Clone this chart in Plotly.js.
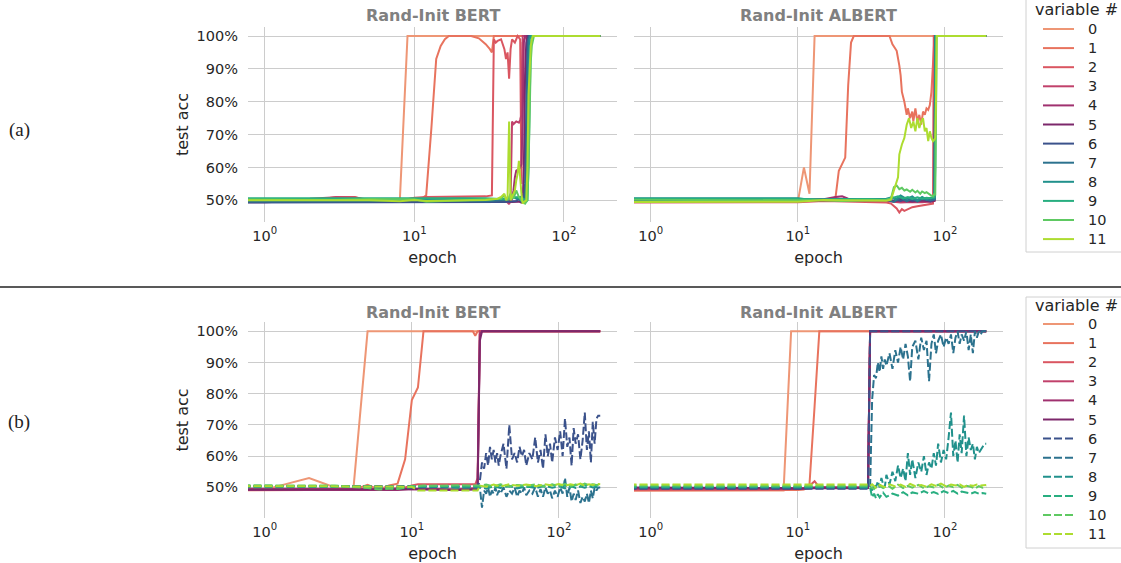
<!DOCTYPE html>
<html>
<head>
<meta charset="utf-8">
<script src="https://cdn.plot.ly/plotly-3.0.1.min.js"></script>
<style>html,body{margin:0;padding:0;background:#fff;}#chart{width:1121px;height:563px;}</style>
</head>
<body>
<div id="chart"></div>
<script>
// ---------------- data ----------------
const variableNames = ['0','1','2','3','4','5','6','7','8','9','10','11'];
const legendTitle = 'variable #';
const panelTitles = ['Rand-Init BERT', 'Rand-Init ALBERT'];
const rowLabels = ['(a)', '(b)'];
const yTickVals = [50, 60, 70, 80, 90, 100];
const yTickText = ['50%', '60%', '70%', '80%', '90%', '100%'];
const xTickVals = [1, 10, 100];
const xTickText = ['10<sup>0</sup>', '10<sup>1</sup>', '10<sup>2</sup>'];
// (epoch 0 of the original run is drawn at 0.5, off the log axis)

// (a) Rand-Init BERT
const bertA_epochs = [
  [0.5,1,2,3,4,5,6,7,8,9,175],
  [0.5,1,2,3,4,5,6,8,10,11,12,13,14,15,16,17,24,27,30,32,33,34,175],
  [0.5,1,2,3,4,5,8,10,12,20,30,33,34,35,36,38,40,41,42,43,44,45,47,49,51,52,53,55,57,175],
  [0.5,1,2,3,4,5,8,12,20,30,38,40,42,43,44,45,46,48,50,51,52,53,54,175],
  [0.5,1,3,5,8,12,20,30,38,42,44,45,46,47,48,50,51,52,53,54,55,175],
  [0.5,1,3,5,10,20,30,40,45,50,52,53,54,55,56,57,175],
  [0.5,1,5,10,20,30,40,48,50,52,54,55,56,57,58,175],
  [0.5,1,5,10,20,30,40,46,50,53,55,56,57,58,59,175],
  [0.5,1,5,10,20,30,40,45,50,52,54,56,57,58,59,60,175],
  [0.5,1,5,10,20,30,40,45,50,54,56,57,58,59,60,61,175],
  [0.5,1,3,5,8,10,12,20,30,36,38,40,42,44,46,48,50,52,53,55,57,58,59,60,61,62,63,175],
  [0.5,1,3,5,8,10,12,20,30,36,38,40,41,42,43,44,45,47,48,49,50,51,52,53,54,56,57,58,59,60,61,62,175]
];
const bertA_acc = [
  [49.6,49.6,49.8,50.3,50.6,49.8,49.7,49.8,50.2,100,100],
  [50,50,50.2,50.8,50.9,50.1,49.8,50.2,50.6,50.2,51.5,72,93,97,99,100,100,99.3,97.5,96,95,100,100],
  [49.5,49.5,49.8,51,51,49.6,49.8,50.8,51,51,51.2,51.5,99,98,98.5,99,96,93,95,87,96,99,98,100,99,55,98,99.5,100,100],
  [50.2,50.2,50.5,50.9,50.8,50,49.8,50.4,50.6,50.5,50.3,49.6,49.4,48.8,50,74,73.2,74,73.6,74.5,76,100,100,100],
  [49.4,49.4,50.2,49.5,49.6,49.8,49.5,49.6,49.5,50,49.5,50.5,53,57,59,59.5,60,61,75,98,100,100],
  [49.8,49.8,49.6,49.6,49.5,49.6,49.8,49.7,49.5,49.6,49.3,49.5,60,88,98,100,100],
  [49.3,49.3,49.4,49.5,49.3,49.4,49.5,49.8,50.5,49.6,50,55,85,98,100,100],
  [49.6,49.6,49.7,50,49.8,49.7,50,50.8,50.2,49.8,50,58,88,99,100,100],
  [50.4,50.4,50.2,50.4,50.3,50.2,50.5,51,50.6,51.2,50,50.2,62,90,99,100,100],
  [50.6,50.6,50.4,50.6,50.4,50.6,50.3,50.8,51,50.4,49.8,50,60,88,97,100,100],
  [50.3,50.3,50.1,50.4,50.2,50.3,49.6,50,50.2,50.5,50.5,51.5,50,52,50.5,53,51,50,49.5,49,50,60,80,92,97,99,100,100],
  [50,50,50.1,50,49.7,50.1,49.8,49.9,50.1,50.5,51,52,50,51,74,50,51,53,56,58,62,55,52,49,49.5,50,60,82,92,97,99,100,100]
];

// (a) Rand-Init ALBERT
const albertA_epochs = [
  [0.5,1,5,10,11,12,13,191],
  [0.5,1,5,10,12,14,16,17,18,19,20,21,22,23,24,42,44,46,47,49,50,51,53,55,56,58,60,61,63,65,67,69,71,73,75,77,79,81,83,85,191],
  [0.5,1,5,10,15,20,30,40,43,45,47,49,51,53,56,60,65,70,75,80,83,84,191],
  [0.5,1,10,12,15,18,20,25,30,40,45,50,60,70,80,85,86,191],
  [0.5,1,10,12,15,18,20,22,25,30,40,45,50,60,70,80,85,86,191],
  [0.5,1,10,15,20,30,40,45,50,60,70,80,85,86,191],
  [0.5,1,10,15,20,30,40,45,50,55,60,70,80,85,86,191],
  [0.5,1,10,15,20,30,40,45,50,55,60,65,70,80,85,86,191],
  [0.5,1,10,12,15,20,30,40,44,46,50,55,60,65,70,75,80,85,86,191],
  [0.5,1,10,15,20,30,40,45,48,52,56,60,65,70,75,80,85,86,87,191],
  [0.5,1,10,15,20,30,40,43,45,47,49,51,53,55,58,60,63,65,68,70,73,75,78,80,83,85,86,87,88,191],
  [0.5,1,10,15,20,30,40,43,45,47,48,49,50,51,53,55,57,59,61,63,65,67,69,71,73,75,77,79,81,83,85,86,87,88,191]
];
const albertA_acc = [
  [49.5,49.5,49.5,49.5,60,52,100,100],
  [49.8,49.8,49.8,49.9,50.2,50.4,50.1,50.2,50.5,59,61,63,85,98,100,100,97.5,96,95.5,91,88,83,80,76,78,75,77,74,78,74,76,73,77,76,78,77.5,79,83,90,100,100],
  [49.3,49.3,49.3,49.4,49.8,49.6,49.5,49.3,49,48.2,47.5,46.3,47.3,46.8,47.4,47.9,48.2,48.5,48.6,48.9,49,100,100],
  [49.6,49.6,49.7,50,49.9,50.6,50.3,49.9,50,49.8,49.6,49.3,49.5,49.4,49.6,49.8,100,100],
  [49.8,49.8,49.9,50.1,50.3,51,51.2,50.5,50.2,50.1,50,49.7,49.9,49.6,49.8,49.7,50,100,100],
  [50,50,50,50.2,50.1,50,50.1,49.8,50.2,49.7,50,49.6,49.9,100,100],
  [50.2,50.2,50.2,50.1,50,50.2,50.1,50.6,49.8,50.7,49.9,50.5,49.8,50.2,100,100],
  [50.4,50.4,50.4,50.3,50.2,50.3,50.2,49.5,50.8,49.7,50.6,49.6,50.4,50.1,50.3,100,100],
  [50.6,50.6,50.6,50.2,50.3,50.4,50.3,50.5,51,50.2,51.5,50.4,51.2,50,51,50.3,50.8,50.6,100,100],
  [50.5,50.5,50.5,50.2,50.3,50.4,50.2,50.8,51.2,50.6,51,50.4,50.9,50.5,50.8,50.6,51,60,100,100],
  [50.2,50.2,50.2,50,49.8,50,50.2,50.6,54,54.5,53.4,53.8,53,53.3,52.6,53.2,52.4,52.9,52,52.7,52.2,52.5,51.8,51.6,51.2,52,51.5,80,100,100],
  [49.5,49.5,49.6,50.1,50,49.8,49.9,50.2,53,55,57,64,66,67,69,73,75,72,74,71,75,72,74,75,71,72,68,71,69,68,68.5,69,80,100,100]
];

// (b) Rand-Init BERT
const bertB_noiseEpochs = [29,30,31,32,33,34,35,36,37,38,39,40,42,44,46,48,50,52,54,56,58,60,63,66,69,72,75,78,81,84,87,90,94,98,102,106,110,114,118,122,126,130,135,140,145,150,155,160,165,170,175,180,185,191];
const bertB_epochs = [
  [0.5,1,2,3,4,5,191],
  [0.5,1,2,3,4,5,6,7,8,9,10,11,12,26,27,28,191],
  [0.5,1,2,3,4,5,6,8,9,10,11,15,20,25,27,28,29,191],
  [0.5,1,3,5,8,10,15,20,28,29,191],
  [0.5,1,3,5,8,10,15,20,28,29,30,191],
  [0.5,1,3,5,8,10,15,20,28,29,30,191],
  [0.5,1,5,10,15,20,25,28].concat(bertB_noiseEpochs),
  [0.5,1,5,10,15,20,25,28].concat(bertB_noiseEpochs),
  [0.5,1,5,8,10,15,20,28,29,32,36,40,46,52,60,70,80,90,100,110,120,130,140,150,160,170,180,191],
  [0.5,1,5,8,10,15,20,28,29,32,36,40,46,52,60,70,80,90,100,110,120,130,140,150,160,170,180,191],
  [0.5,1,3,5,6,7,8,10,12,15,20,28,29,32,36,40,46,52,60,70,80,90,100,110,120,130,140,150,160,170,180,191],
  [0.5,1,5,8,10,11,15,20,25,28,29,32,36,40,46,52,60,70,80,90,100,110,120,130,140,150,160,170,180,191]
];
const bertB_acc = [
  [49.3,49.3,53,50,49.2,100,100],
  [49,49,49.2,49.3,49.2,50.8,49.3,50.6,51.2,59,78,82,100,100,98.6,100,100],
  [49.6,49.6,49.5,49.3,49.4,49.6,49.3,49.7,50,50.6,51,51,51,51,51,53,100,100],
  [49.5,49.5,49.6,49.3,49.5,49.6,49.5,49.4,49.8,100,100],
  [49.2,49.2,49.3,49.4,49.2,49.5,49.4,49.2,49.5,99,100,100],
  [49.3,49.3,49.2,49.3,49.4,49.5,49.3,49.2,49.4,97,100,100],
  [50.3,50.3,50.4,50.1,50.2,50.3,50.2,50.3,
   52,58,56,61,57,63,59,62,58,61,57,60,64,56,70,59,61,58,63,60,62,57,61,59,66,58,62,56,67,60,64,58,66,62,68,60,72,63,66,57,69,64,67,59,65,74,62,68,58,71,64,72,73,73],
  [50.5,50.5,50.6,50.4,50.5,50.6,50.5,50.4,
   50,43.5,49,48,50,47,49,48,50,47.5,49,48,50,47,49,48,50,47,49,48,50,47.5,49,48,50,47,49.5,47,50,48,49,46.5,49,47,50,48,53,47,50,45.5,48,46,49,45,47,45.5,48,45,49,46.5,50,49,50,50],
  [50,50,50.2,49.6,50,50.1,49.9,50,50.2,49.6,50.4,49.8,50.5,49.7,50.3,49.8,50.6,49.9,50.4,49.7,50.5,49.8,50.3,49.9,50.4,50,50.2,50],
  [50.5,50.5,50.3,49.8,50.4,50.5,50.3,50.4,50.1,50.6,49.9,50.7,50.2,50.8,50.1,50.6,50.2,50.9,50.3,50.7,50.1,50.8,50.4,50.9,50.3,50.8,50.5,50.6],
  [50.7,50.7,50.6,49.8,49.3,49.6,49.5,50.3,50.6,50.5,50.7,50.6,50.5,50.9,50.3,51,50.4,50.8,50.5,51,50.4,50.9,50.6,51.1,50.5,50.9,50.6,51.2,50.7,51,50.8,50.9],
  [50.4,50.4,50.5,50.3,50.2,49,49,49,49,49,50.6,50.2,50.9,50.3,51,50.5,50.9,50.4,51,50.6,51.1,50.5,51,50.7,51.2,50.6,51,50.8,51.1,51]
];

// (b) Rand-Init ALBERT
const albertB_noiseEpochs = [31,32,33,34,35,36,37,38,39,40,42,44,46,48,50,52,54,56,58,60,63,66,69,72,75,78,81,84,87,90,94,98,102,106,110,114,118,122,126,130,135,140,145,150,155,160,165,170,175,180,186,191];
const albertB_epochs = [
  [0.5,1,5,8,9,191],
  [0.5,1,5,8,10,11,12,13,14,191],
  [0.5,1,5,8,9,10,11,12,13,14,16,20,25,30,31,191],
  [0.5,1,5,8,9,10,12,14,20,25,30,31,191],
  [0.5,1,5,8,9,10,12,14,20,25,30,31,191],
  [0.5,1,5,8,10,12,14,20,25,30,31,191],
  [0.5,1,5,10,15,20,25,30,31,191],
  [0.5,1,5,10,15,20,25,30].concat(albertB_noiseEpochs),
  [0.5,1,5,10,15,20,25,30].concat(albertB_noiseEpochs),
  [0.5,1,5,10,15,20,25,30,31,32,33,34,35,36,38,40,44,48,52,56,60,66,72,78,84,90,98,106,114,122,130,140,150,160,170,180,191],
  [0.5,1,5,10,15,20,25,30,31,33,35,38,41,44,48,52,56,60,66,72,78,84,90,98,106,114,122,130,140,150,160,170,180,191],
  [0.5,1,5,10,15,20,25,30,31,32,34,36,39,42,46,50,54,58,63,69,75,81,87,94,102,110,118,126,135,145,155,165,175,191]
];
const albertB_acc = [
  [49,49,49,49,100,100],
  [49,49,49,49,49.2,49.3,51,76,100,100],
  [49.2,49.2,49.2,49.3,49.5,49.6,49.8,50.5,52,50,49.8,50,49.9,50,100,100],
  [49.5,49.5,49.5,49.6,49.8,49.6,49.9,50.1,50,50,50,100,100],
  [49.8,49.8,49.8,49.7,49.6,49.5,49.8,50,49.9,49.8,49.9,100,100],
  [50,50,50,49.8,49.6,49.7,49.8,49.7,49.8,49.8,100,100],
  [49.6,49.6,49.6,49.7,49.6,49.6,49.6,49.6,100,100],
  [49.9,49.9,49.9,50,49.9,50,49.9,50,
   50,78,86,85,90,87,92,88,91,89,93,88,94,90,95,91,96,92,84,95,97,91,98,94,97,84,96,99,93,97,99,95,98,96,99,93,98,100,96,99,97,100,94,99,93,100,98,100,99,100,100,100],
  [50.1,50.1,50.2,50.1,50.2,50.1,50.2,50.1,
   50,49,51,50,52,50,53,51,50,54,51,55,52,57,53,56,52,61,54,59,53,58,55,60,54,58,56,61,57,64,58,62,59,66,74,60,65,58,67,61,73,60,66,62,64,59,63,61,62,63,64,64],
  [50.2,50.2,50.2,50.3,50.2,50.1,50.2,50.2,50,46.8,48,46.5,47.8,46.8,48.3,47,48,47.4,48.5,47.5,48.4,48,48.8,48,48.5,47.9,48.8,48.2,48.9,48,48.7,48.3,48,48.5,48,48.2,48],
  [50.6,50.6,50.6,50.5,50.4,50.5,50.6,50.5,50.2,49.5,50.8,49.8,50.6,49.6,50.9,49.8,50.5,49.9,50.8,49.7,50.4,50,50.9,49.8,50.6,50.1,50.8,49.9,50.5,50.2,49.6,50.4,49.9,50.2],
  [50.9,50.9,50.8,50.9,50.8,50.9,50.8,50.9,50.5,51,49.9,50.8,50.1,51,50.3,50.9,50.2,51.1,50.4,50.8,50.2,51,50.5,51.2,50.3,50.9,50.6,51,50.2,50.8,50.5,50.9,50.6,50.8]
];

// ---------------- styling ----------------
const COLORS = ['#ee9675','#e8735e','#da5661','#c1416b','#a0316f','#7c286b',
                '#3b528b','#2c728e','#21918c','#28ae80','#5ec962','#addc30'];
const FONT = 'DejaVu Sans, Arial, sans-serif';
const TXT = '#262626';
const DASH = '8px,3px';

function panel(epochs, acc, xa, ya, dashedFrom) {
  return epochs.map((ep, i) => {
    if (ep.length !== acc[i].length) console.warn('length mismatch', xa, i, ep.length, acc[i].length);
    return {
      type: 'scatter', mode: 'lines', x: ep, y: acc[i], xaxis: xa, yaxis: ya,
      name: variableNames[i], hoverinfo: 'skip', showlegend: false,
      line: {color: COLORS[i], width: 2,
             dash: (dashedFrom !== null && i >= dashedFrom) ? DASH : 'solid'}
    };
  });
}

const traces = [].concat(
  panel(bertA_epochs, bertA_acc, 'x', 'y', null),
  panel(albertA_epochs, albertA_acc, 'x2', 'y2', null),
  panel(bertB_epochs, bertB_acc, 'x3', 'y3', 6),
  panel(albertB_epochs, albertB_acc, 'x4', 'y4', 6)
);

const W = 1121, H = 563;
const px = v => v / W, py = v => 1 - v / H;
const domL = [px(248), px(617)], domR = [px(634), px(1003)];
const domTop = [py(222), py(27)], domBot = [py(518), py(322)];

function xax(dom, anchor, range) {
  return {
    type: 'log', domain: dom, anchor: anchor, range: range, automargin: false,
    tickvals: xTickVals, ticktext: xTickText, ticks: '', ticklabelstandoff: 3,
    showgrid: true, gridcolor: '#cccccc', gridwidth: 1, zeroline: false, showline: false,
    tickfont: {family: FONT, size: 14.5, color: TXT},
    title: {text: 'epoch', font: {family: FONT, size: 16, color: TXT}, standoff: 9}
  };
}
function yax(dom, anchor, range, labels) {
  const a = {
    domain: dom, anchor: anchor, range: range, automargin: false,
    tickvals: yTickVals, ticktext: yTickText, ticks: '', showticklabels: labels,
    showgrid: true, gridcolor: '#cccccc', gridwidth: 1, zeroline: false, showline: false,
    tickfont: {family: FONT, size: 14.5, color: TXT}, ticklabelstandoff: 9
  };
  if (labels) a.title = {text: 'test acc', font: {family: FONT, size: 16, color: TXT}, standoff: 3};
  return a;
}

// ---- hand-built legends (legend box, sample lines, labels) ----
const shapes = [{type: 'line', xref: 'paper', yref: 'paper', x0: 0, x1: 1, y0: py(287), y1: py(287),
                 line: {color: '#222222', width: 1.5}}];
const annotations = [];
function addLegend(boxTop, boxBottom, titleY, firstY, dashedFrom) {
  shapes.push({type: 'rect', xref: 'paper', yref: 'paper', x0: px(1026), x1: px(1130),
               y0: py(boxBottom), y1: py(boxTop), fillcolor: '#ffffff',
               line: {color: '#d0d0d0', width: 1}});
  annotations.push({text: legendTitle, x: px(1033), y: py(titleY), xanchor: 'left', yanchor: 'middle',
                    font: {family: FONT, size: 16, color: TXT}});
  variableNames.forEach((name, i) => {
    const yy = firstY + 19.1 * i;
    shapes.push({type: 'line', xref: 'paper', yref: 'paper', x0: px(1043), x1: px(1074),
                 y0: py(yy), y1: py(yy),
                 line: {color: COLORS[i], width: 2, dash: (dashedFrom !== null && i >= dashedFrom) ? DASH : 'solid'}});
    annotations.push({text: name, x: px(1086), y: py(yy), xanchor: 'left', yanchor: 'middle',
                      font: {family: FONT, size: 14.5, color: TXT}});
  });
}
addLegend(-3, 252, 10, 29, null);
addLegend(297, 548, 305, 324, 6);

[[panelTitles[0], domL, 15], [panelTitles[1], domR, 15], [panelTitles[0], domL, 312], [panelTitles[1], domR, 312]]
  .forEach(([t, d, yy]) => annotations.push({text: '<b>' + t + '</b>', x: (d[0] + d[1]) / 2, y: py(yy),
    xanchor: 'center', yanchor: 'middle', font: {family: FONT, size: 16, color: '#808080'}}));
annotations.push({text: rowLabels[0], x: px(19), y: py(130), xanchor: 'center', yanchor: 'middle',
                  font: {family: 'Liberation Serif, serif', size: 19, color: '#222'}});
annotations.push({text: rowLabels[1], x: px(19), y: py(422), xanchor: 'center', yanchor: 'middle',
                  font: {family: 'Liberation Serif, serif', size: 19, color: '#222'}});
annotations.forEach(a => Object.assign(a, {xref: 'paper', yref: 'paper', showarrow: false}));

const layout = {
  width: W, height: H, autosize: false, showlegend: false,
  margin: {l: 0, r: 0, t: 0, b: 0},
  paper_bgcolor: '#ffffff', plot_bgcolor: '#ffffff',
  font: {family: FONT, color: TXT},
  xaxis: xax(domL, 'y', [-0.1122, 2.3549]),
  xaxis2: xax(domR, 'y2', [-0.1141, 2.3951]),
  xaxis3: xax(domL, 'y3', [-0.1141, 2.3951]),
  xaxis4: xax(domR, 'y4', [-0.1141, 2.3951]),
  yaxis: yax(domTop, 'x', [43.4, 102.74], true),
  yaxis2: yax(domTop, 'x2', [43.4, 102.74], false),
  yaxis3: yax(domBot, 'x3', [40.2, 103.0], true),
  yaxis4: yax(domBot, 'x4', [40.2, 103.0], false),
  shapes: shapes,
  annotations: annotations
};

Plotly.newPlot('chart', traces, layout, {staticPlot: true, displayModeBar: false});
</script>
</body>
</html>
